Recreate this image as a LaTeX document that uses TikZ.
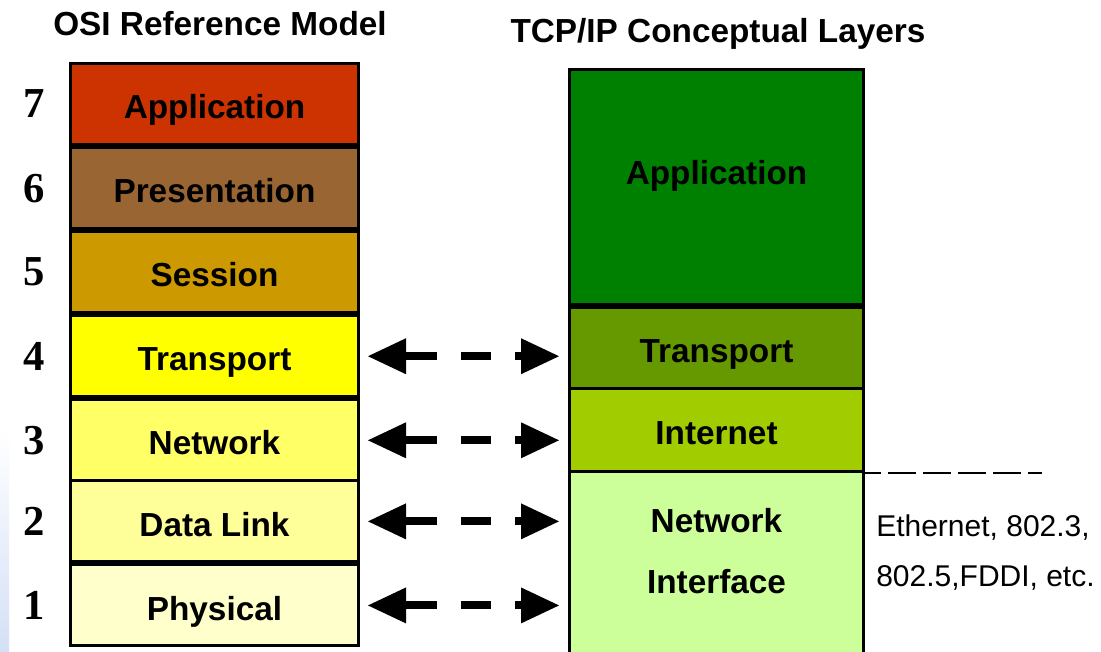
\documentclass[tikz,border=0pt]{standalone}
\usepackage{fontspec}
\setmainfont{Liberation Sans}
\newfontfamily\digitfont{Liberation Serif}
\definecolor{osired}{RGB}{204,51,0}
\definecolor{osibrown}{RGB}{153,102,51}
\definecolor{osigold}{RGB}{204,153,0}
\definecolor{osiyellow}{RGB}{255,255,0}
\definecolor{osilemon}{RGB}{255,255,102}
\definecolor{osicream}{RGB}{255,255,153}
\definecolor{osipale}{RGB}{255,255,204}
\definecolor{tcpgreen}{RGB}{0,128,0}
\definecolor{tcpolive}{RGB}{102,153,0}
\definecolor{tcplime}{RGB}{160,204,0}
\definecolor{tcpmint}{RGB}{204,255,153}
\definecolor{edgeblue}{RGB}{212,224,246}
\usetikzlibrary{arrows.meta,positioning}

\begin{document}
\begin{tikzpicture}[x=0.75pt, y=-0.75pt,
      osi/.style={draw=black, line width=2.25pt, inner sep=0pt,
                  minimum width=216pt, minimum height=60.8pt,
                  text height=22pt, text depth=0pt,
                  font=\bfseries\fontsize{25}{30}\selectfont},
      tcp/.style={osi, minimum width=220.5pt},
      layerno/.style={inner sep=0pt,
                      font=\digitfont\bfseries\fontsize{32}{32}\selectfont},
      heading/.style={inner sep=0pt, anchor=base,
                      font=\bfseries\fontsize{25}{30}\selectfont},
      celltext/.style={inner sep=0pt, align=center,
                       font=\bfseries\fontsize{25}{45.75}\selectfont},
      note/.style={inner sep=0pt, align=left,
                   font=\fontsize{22.5}{37.5}\selectfont},
      maps/.style={line width=6pt,
                   dash pattern=on 23.25pt off 18pt on 22.5pt off 18pt,
                   {Triangle[length=28.5pt,width=27pt,line width=0pt]}-{Triangle[length=28.5pt,width=27pt,line width=0pt]},
                   shorten <=6pt, shorten >=6.75pt},
      edge/.style={line width=1.5pt, dash pattern=on 21pt off 5.25pt,
                   dash phase=9pt}
    ]
    \useasboundingbox (0,0) rectangle (1101,652);
    \clip (0,0) rectangle (1101,652);
    % faint slide background at the left edge
    \shade[top color=white, bottom color=edgeblue] (0,430) rectangle (9,652);

    % OSI stack, layer 7 on top
    \node[heading] (osititle) at (220,36) {OSI Reference Model};
    \node[osi, fill=osired, anchor=north west] (osi7) at (69,62) {Application};
    \node[osi, fill=osibrown, below=0pt of osi7] (osi6) {Presentation};
    \node[osi, fill=osigold, below=0pt of osi6] (osi5) {Session};
    \node[osi, fill=osiyellow, below=0pt of osi5] (osi4) {Transport};
    \node[osi, fill=osilemon, below=0pt of osi4] (osi3) {Network};
    \node[osi, fill=osicream, below=-2.25pt of osi3] (osi2) {Data Link};
    \node[osi, fill=osipale, below=0pt of osi2] (osi1) {Physical};
    \foreach \n in {1,...,7}
      \node[layerno, left=18pt of osi\n] (no\n) {\n};

    % TCP/IP stack
    \node[heading] (tcptitle) at (718,43) {TCP/IP Conceptual Layers};
    \node[tcp, fill=tcpgreen, minimum height=176.25pt, anchor=north west]
      (tcpapp) at (568,68) {\raisebox{13pt}{Application}};
    \node[tcp, fill=tcpolive, minimum height=60.75pt, below=0pt of tcpapp] (tcptr) {Transport};
    \node[tcp, fill=tcplime, minimum height=62.5pt, below=-2.25pt of tcptr] (tcpint) {Internet};
    \node[tcp, fill=tcpmint, minimum height=200pt, below=-2.25pt of tcpint] (tcpnet) {};
    \node[celltext, below=28.5pt of tcpnet.north] (nilabel) {Network\\Interface};

    % hardware note next to the lowest layer
    \coordinate (ethend) at (1042,474);
    \draw[edge] (tcpint.south east) -- (tcpint.south east -| ethend);
    \node[note, anchor=north west] (ethnote) at (876,514)
      {Ethernet, 802.3,\\802.5,FDDI, etc.};

    % layer correspondence
    \foreach \n in {1,...,4}
      \draw[maps] (osi\n.east) -- (osi\n.east -| tcpapp.west);
  \end{tikzpicture}
\end{document}
